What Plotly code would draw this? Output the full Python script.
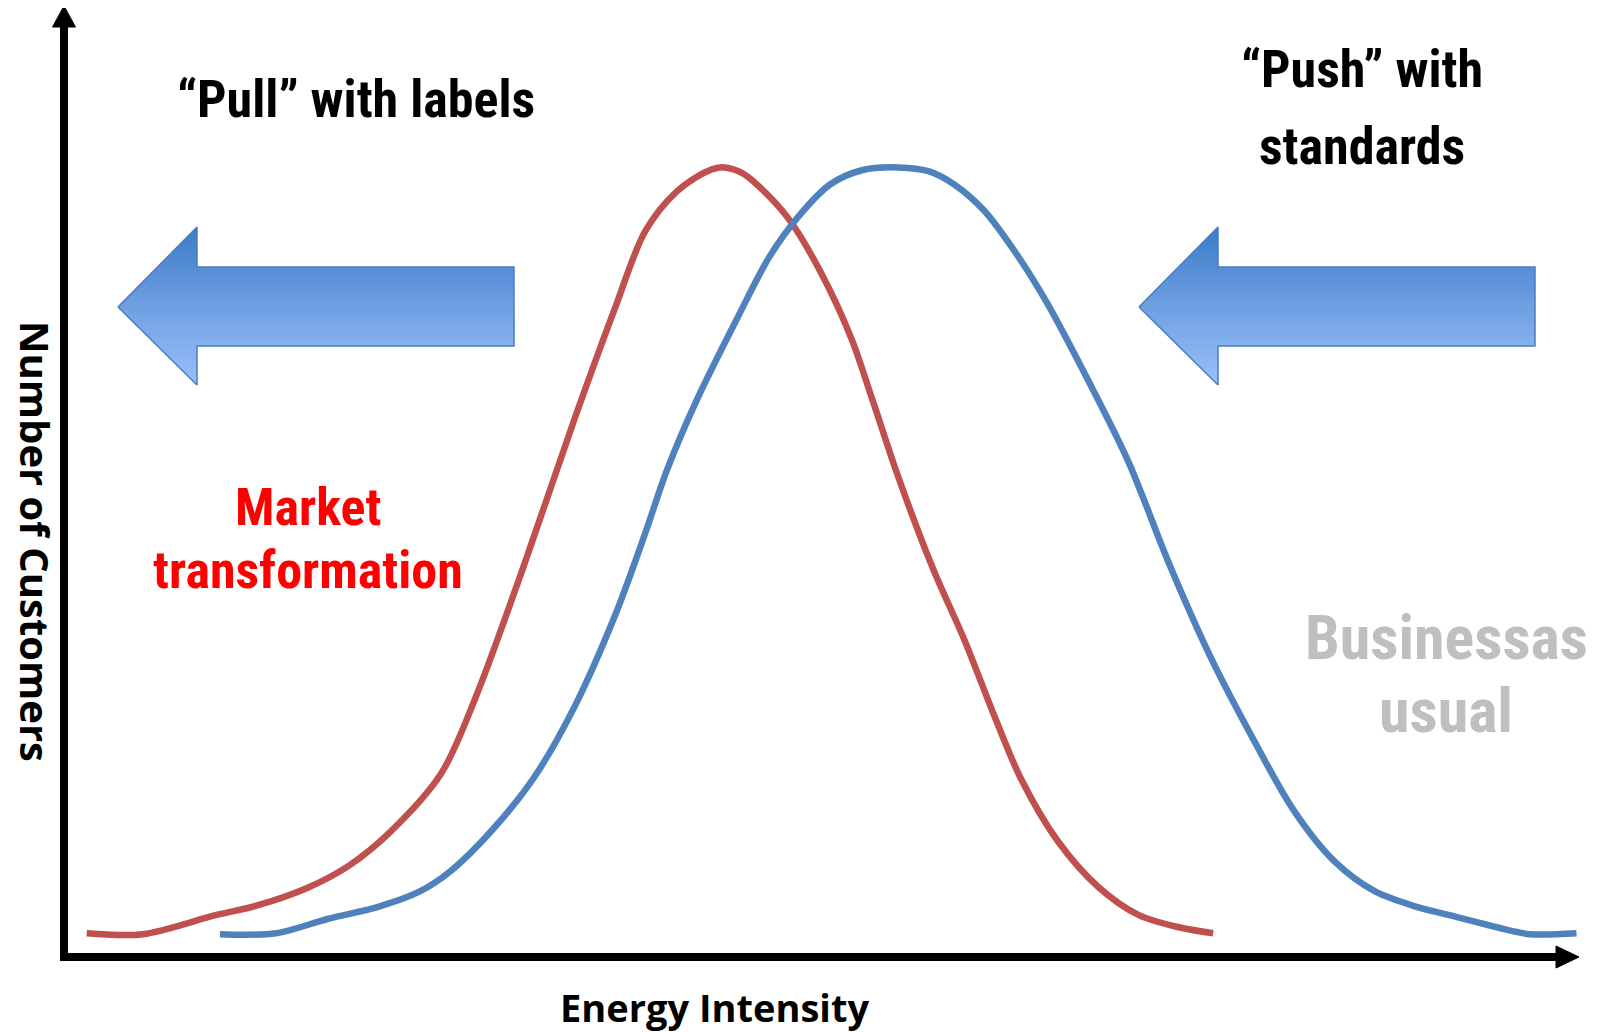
import plotly.graph_objects as go

# ---------------- data (x: energy intensity 0-100, y: number of customers 0-100)
red_x = [1.5, 5.2, 10.0, 12.7, 16.1, 18.8, 21.5, 24.9, 27.2, 30.3, 33.7, 36.4, 38.4, 40.5,
         42.5, 43.6, 44.8, 45.9, 47.9, 50.0, 52.0, 53.4, 55.1, 57.4, 59.5, 61.5, 63.2, 65.6,
         68.3, 71.0, 73.7, 75.9]
red_y = [2.4, 2.3, 4.3, 5.3, 7.2, 9.5, 13.0, 19.2, 27.3, 40.8, 56.5, 68.3, 76.4, 80.6,
         82.7, 83.1, 82.5, 81.1, 77.6, 72.0, 65.1, 58.6, 50.5, 40.8, 33.2, 25.1, 18.7, 12.2,
         7.3, 4.3, 3.0, 2.4]

blue_x = [10.3, 14.0, 17.4, 20.8, 23.5, 25.5, 28.3, 31.0, 33.7, 36.4, 38.4, 39.8, 41.8,
          44.5, 46.6, 48.6, 50.6, 52.7, 55.1, 57.1, 58.8, 60.8, 62.9, 64.9, 67.6, 70.3,
          73.0, 75.7, 78.5, 81.2, 83.9, 86.6, 89.3, 92.0, 94.7, 96.8, 99.9]
blue_y = [2.3, 2.4, 3.9, 5.2, 6.8, 8.9, 13.3, 18.7, 26.2, 35.9, 44.6, 51.1, 58.6,
          67.3, 73.7, 78.1, 81.3, 82.8, 83.1, 82.7, 81.3, 78.5, 74.0, 68.9, 60.8, 52.1,
          41.3, 31.6, 23.0, 15.4, 10.0, 6.8, 5.2, 4.1, 3.0, 2.3, 2.4]

# ---------------- layout geometry (page pixels; the page body adds an 8px margin)
OFF = 8
PAGE_W, PAGE_H = 1609, 1032
W, H = PAGE_W - 2 * OFF, PAGE_H - OFF
X0_PX, X100_PX = 64, 1578        # page x of data x=0 and x=100
Y0_PX, Y100_PX = 956, 7          # page y of data y=0 and y=100
TOP_PX = 28                      # page y of plot-area top
L = X0_PX - OFF
R = W - (X100_PX - OFF)
T = TOP_PX - OFF
B = H - (Y0_PX - OFF)
Y_TOP = (Y0_PX - TOP_PX) / (Y0_PX - Y100_PX) * 100


def px2x(px):
    return (px - X0_PX) / (X100_PX - X0_PX) * 100


def px2y(py):
    return (Y0_PX - py) / (Y0_PX - Y100_PX) * 100


def pxx(px):
    return (px - X0_PX) / (X100_PX - X0_PX)


def pxy(py):
    return (Y0_PX - py) / (Y0_PX - TOP_PX)


RED = "#C0504D"
BLUE = "#4F81BD"
NARROW = "Liberation Sans Narrow, Arial Narrow, Roboto Condensed, Roboto, Liberation Sans, sans-serif"
HUMAN = "Open Sans, Lato, sans-serif"

fig = go.Figure()


def block_arrow(tip, head_base, right, head_top, head_bot, shaft_top, shaft_bot, cy):
    xs = [tip, head_base, head_base, right, right, head_base, head_base, tip]
    ys = [cy, head_top, shaft_top, shaft_top, shaft_bot, shaft_bot, head_bot, cy]
    fig.add_trace(go.Scatter(
        x=[px2x(v) for v in xs], y=[px2y(v) for v in ys],
        mode="lines", fill="toself",
        line=dict(color="#4A7EBB", width=1.5),
        fillgradient=dict(type="vertical",
                          colorscale=[[0, "#9AC0F9"], [0.5, "#6E9FE2"], [1, "#3C7AC8"]]),
        hoverinfo="skip", showlegend=False))


block_arrow(118, 197, 514, 227, 385, 267, 346, 307)
block_arrow(1139, 1218, 1535, 227, 385, 267, 346, 307)

fig.add_trace(go.Scatter(x=red_x, y=red_y, mode="lines",
                         line=dict(color=RED, width=6.5, shape="spline", smoothing=0.9),
                         showlegend=False, hoverinfo="skip"))
fig.add_trace(go.Scatter(x=blue_x, y=blue_y, mode="lines",
                         line=dict(color=BLUE, width=6.5, shape="spline", smoothing=0.9),
                         showlegend=False, hoverinfo="skip"))

shapes = [
    # y axis line + head
    dict(type="line", xref="paper", yref="paper", x0=0, x1=0, y0=pxy(961), y1=pxy(24),
         line=dict(color="black", width=8)),
    dict(type="path", xref="paper", yref="paper",
         path=f"M {pxx(52.5)} {pxy(27)} L {pxx(64)} {pxy(6)} L {pxx(75.5)} {pxy(27)} Z",
         fillcolor="black", line=dict(color="black", width=1)),
    # x axis line + head
    dict(type="line", xref="paper", yref="paper", x0=pxx(60), x1=pxx(1560),
         y0=pxy(957), y1=pxy(957), line=dict(color="black", width=8)),
    dict(type="path", xref="paper", yref="paper",
         path=f"M {pxx(1556)} {pxy(946)} L {pxx(1579)} {pxy(957)} L {pxx(1556)} {pxy(968)} Z",
         fillcolor="black", line=dict(color="black", width=1)),
]


def txt(s, cx, cy, size, color="black", family=NARROW, angle=0):
    return dict(text=s, xref="paper", yref="paper", x=pxx(cx), y=pxy(cy),
                xanchor="center", yanchor="middle", showarrow=False, textangle=angle,
                borderpad=0,
                font=dict(family=family, size=size, color=color, weight="bold"))


annotations = [
    txt("\u201cPull\u201d with labels", 356, 100, 52),
    txt("\u201cPush\u201d with", 1362, 70, 52),
    txt("standards", 1362, 146, 52),
    txt("Market", 308, 507, 52, color="#FF0000"),
    txt("transformation", 308, 570, 52, color="#FF0000"),
    txt("Businessas", 1446, 637, 62, color="#BFBFBF"),
    txt("usual", 1446, 711, 62, color="#BFBFBF"),
    txt("Energy Intensity", 714, 1007, 38, family=HUMAN),
    txt("Number of Customers", 36, 541, 40, family=HUMAN, angle=90),
]

fig.update_layout(
    width=W, height=H,
    margin=dict(l=L, r=R, t=T, b=B),
    paper_bgcolor="white", plot_bgcolor="white",
    xaxis=dict(range=[0, 100], visible=False, fixedrange=True),
    yaxis=dict(range=[0, Y_TOP], visible=False, fixedrange=True),
    shapes=shapes, annotations=annotations,
)

fig.write_html("out.html")
